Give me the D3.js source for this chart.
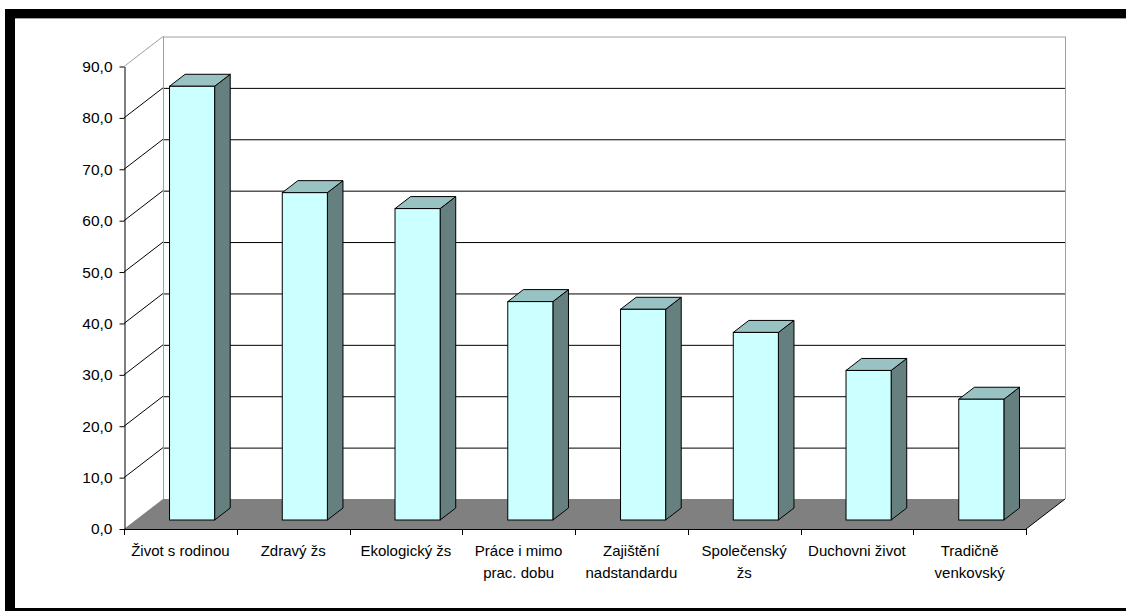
<!DOCTYPE html>
<html><head><meta charset="utf-8">
<script src="https://cdn.jsdelivr.net/npm/d3@7"></script>
<style>
body{margin:0;background:#fff}
svg{display:block}
text{font-family:"Liberation Sans",Arial,sans-serif;font-size:15px;fill:#000}
</style>
</head><body>
<svg id="c" width="1126" height="612"></svg>
<script>
const categories = ["Život s rodinou","Zdravý žs","Ekologický žs","Práce i mimo prac. dobu","Zajištění nadstandardu","Společenský žs","Duchovni život","Tradičně venkovský"];
const categoryLines = [["Život s rodinou"],["Zdravý žs"],["Ekologický žs"],["Práce i mimo","prac. dobu"],["Zajištění","nadstandardu"],["Společenský","žs"],["Duchovni život"],["Tradičně","venkovský"]];
const values = [84.4,63.7,60.6,42.5,41.0,36.5,29.1,23.5];
const yTicks = [0,10,20,30,40,50,60,70,80,90];
const yTickLabels = ["0,0","10,0","20,0","30,0","40,0","50,0","60,0","70,0","80,0","90,0"];

const svg = d3.select("#c");
const L = 124, R = 1026, B = 529, T = 66.5;
const DX = 39, DY = -30;         // full depth offset
const f0 = 0.3, f1 = 0.7;        // bar front/back depth fraction

const x = d3.scaleBand().domain(categories).range([L, R]).paddingInner(0.6).paddingOuter(0.3);
const y = d3.scaleLinear().domain([0, 90]).range([B, T]);

// frame
svg.append("rect").attr("x",5).attr("y",9).attr("width",1121).attr("height",9).attr("fill","#000");
svg.append("line").attr("x1",15).attr("x2",1126).attr("y1",18.5).attr("y2",18.5).attr("stroke","#a0a0a0");
svg.append("rect").attr("x",5).attr("y",9).attr("width",10).attr("height",602).attr("fill","#000");
svg.append("rect").attr("x",5).attr("y",608).attr("width",1121).attr("height",3).attr("fill","#000");

const g = svg.append("g");
const bx0 = L + DX, bx1 = R + DX;

// floor
g.append("polygon")
  .attr("points", [[L,y(0)],[R,y(0)],[bx1,y(0)+DY],[bx0,y(0)+DY]].map(p=>p.join(",")).join(" "))
  .attr("fill","#808080");
g.append("line").attr("x1",R).attr("y1",y(0)).attr("x2",bx1).attr("y2",y(0)+DY).attr("stroke","#000");

// gridlines (back wall + side wall)
const grid = yTicks.filter(v => v > 0 && v < 90);
g.selectAll(".gb").data(grid).join("line")
  .attr("x1",bx0).attr("x2",bx1).attr("y1",d=>y(d)+DY+0.5).attr("y2",d=>y(d)+DY+0.5)
  .attr("stroke","#000");
g.selectAll(".gs").data(grid).join("line")
  .attr("x1",L).attr("x2",bx0).attr("y1",d=>y(d)).attr("y2",d=>y(d)+DY)
  .attr("stroke","#000");

// wall borders
const wall = "#a0a0a0";
g.append("line").attr("x1",L).attr("y1",y(90)).attr("x2",bx0).attr("y2",y(90)+DY).attr("stroke",wall);
g.append("line").attr("x1",bx0).attr("x2",bx1).attr("y1",y(90)+DY+0.5).attr("y2",y(90)+DY+0.5).attr("stroke",wall);
g.append("line").attr("x1",bx0+0.5).attr("x2",bx0+0.5).attr("y1",y(90)+DY).attr("y2",y(0)+DY).attr("stroke",wall);
g.append("line").attr("x1",bx1+0.5).attr("x2",bx1+0.5).attr("y1",y(90)+DY).attr("y2",y(0)+DY).attr("stroke",wall);

// bars
const ox = DX*f0, oy = DY*f0;
const ddx = DX*(f1-f0), ddy = DY*(f1-f0);
const bw = x.bandwidth();
const bars = g.selectAll(".bar").data(values.map((v,i)=>({c:categories[i], v}))).join("g");
bars.each(function(d){
  const s = d3.select(this);
  const fx = x(d.c) + ox;
  const top = y(d.v) + oy, bot = y(0) + oy;
  s.append("polygon")
    .attr("points",[[fx+bw,top],[fx+bw+ddx,top+ddy],[fx+bw+ddx,bot+ddy],[fx+bw,bot]].map(p=>p.join(",")).join(" "))
    .attr("fill","#668080").attr("stroke","#000").attr("stroke-linejoin","round");
  s.append("polygon")
    .attr("points",[[fx,top],[fx+ddx,top+ddy],[fx+bw+ddx,top+ddy],[fx+bw,top]].map(p=>p.join(",")).join(" "))
    .attr("fill","#99C2C2").attr("stroke","#000").attr("stroke-linejoin","round");
  s.append("rect").attr("x",fx).attr("y",top).attr("width",bw).attr("height",bot-top)
    .attr("fill","#CCFFFF").attr("stroke","#000");
});

// y axis
const ya = svg.append("g").attr("transform",`translate(${L+0.5},0)`)
  .call(d3.axisLeft(y).tickValues(yTicks).tickFormat((d,i)=>yTickLabels[i]).tickSize(5).tickSizeOuter(0).tickPadding(7));
ya.select(".domain").attr("stroke","#000");
ya.selectAll("text").style("font-family",'"Liberation Sans",Arial,sans-serif').style("font-size","15.5px").attr("fill","#000");

// x axis line and boundary ticks
svg.append("line").attr("x1",L).attr("x2",R).attr("y1",B+0.5).attr("y2",B+0.5).attr("stroke","#000");
svg.selectAll(".xt").data(d3.range(categories.length+1)).join("line")
  .attr("x1",i=>Math.round(L + i*x.step())+0.5).attr("x2",i=>Math.round(L + i*x.step())+0.5)
  .attr("y1",B).attr("y2",B+6).attr("stroke","#000");

// category labels
const lab = svg.selectAll(".xl").data(categories).join("text")
  .attr("text-anchor","middle")
  .attr("transform",d=>`translate(${x(d)+bw/2},556)`);
lab.each(function(d,i){
  const t = d3.select(this);
  categoryLines[i].forEach((ln,j)=>{
    t.append("tspan").attr("x",0).attr("y",j*22).text(ln);
  });
});
</script>
</body></html>
